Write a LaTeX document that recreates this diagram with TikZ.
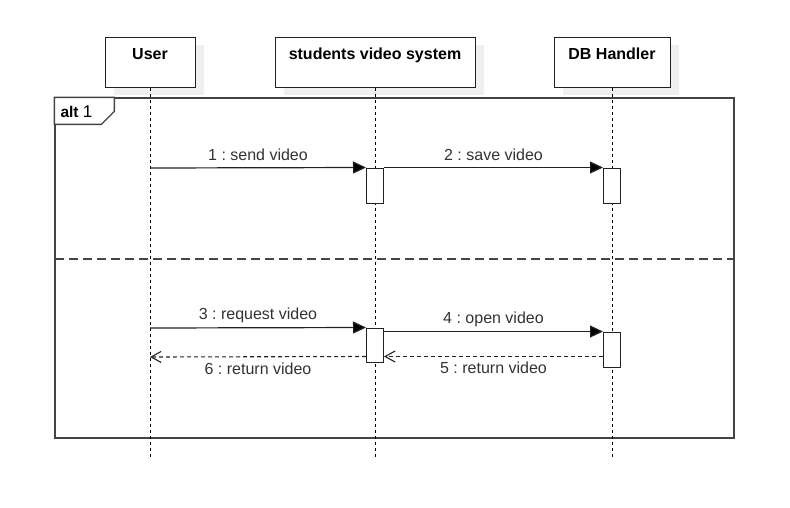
\documentclass[tikz,border=0pt]{standalone}
\usepackage{fontspec}
\setmainfont{Liberation Sans}
\usetikzlibrary{arrows.meta,shadows}
\definecolor{ink}{HTML}{222222}
\definecolor{textink}{HTML}{333333}
\definecolor{frameink}{HTML}{444444}
\definecolor{shade}{HTML}{EFEFEF}
\frenchspacing
\begin{document}
\begin{tikzpicture}[x=1pt,y=-1pt,
  every node/.style={font=\fontsize{16}{19}\selectfont},
  headbox/.style={draw=ink, line width=1pt, fill=white, rectangle, inner sep=0pt,
    text height=22.3pt, text depth=27.7pt, font=\fontsize{16}{19}\selectfont\bfseries,
    general shadow={fill=shade, shadow xshift=9pt, shadow yshift=-8pt}},
  actbox/.style={draw=ink, line width=1pt, fill=white, rectangle, inner sep=0pt,
    minimum width=17pt},
  lifeline/.style={draw=black, line width=1pt, dash pattern=on 3pt off 3pt},
  framebox/.style={draw=frameink, line width=1.3pt, rectangle, inner sep=0pt},
  altsep/.style={draw=frameink, line width=1.2pt, dash pattern=on 9pt off 5pt},
  syncmsg/.style={draw=ink, line width=1.2pt, -{Triangle[length=13pt,width=12pt,fill=black]}},
  retmsg/.style={draw=ink, line width=1.1pt, dash pattern=on 4pt off 3pt,
    -{Straight Barb[length=10pt,width=11pt,line width=1.1pt]}},
  msgabove/.style={midway, anchor=base, inner sep=0pt, text=textink, yshift=7.5pt},
  msgbelow/.style={midway, anchor=base, inner sep=0pt, text=textink, yshift=-17.5pt}
]
\useasboundingbox (0,0) rectangle (790,507);

% combined fragment frame
\node[framebox, minimum width=679pt, minimum height=340pt] (alt) at (394.5,268) {};
\coordinate (sepL) at (55,259);
\coordinate (sepR) at (734,259);
\draw[altsep] (sepL) -- (sepR);

% participants
\node[headbox, minimum width=90pt] (user) at (150,62) {User};
\node[headbox, minimum width=200pt] (svs) at (375,62) {students video system};
\node[headbox, minimum width=116pt] (db) at (612,62) {DB Handler};

% lifelines
\coordinate (userEnd) at (150,458);
\coordinate (svsEnd) at (375,458);
\coordinate (dbEnd) at (612,458);
\draw[lifeline] (user.south) -- (userEnd);
\draw[lifeline] (svs.south) -- (svsEnd);
\draw[lifeline] (db.south) -- (dbEnd);

% frame label
\draw[framebox, fill=white] (alt.north west) -- ++(60,0) -- ++(0,14) -- ++(-13,13) -- ++(-47,0) -- cycle;
\node[anchor=base west, inner sep=0pt] (altlabel) at ([shift={(6,19.7)}]alt.north west)
  {\fontsize{15.5}{17}\selectfont\bfseries alt\ \mdseries\fontsize{17}{19}\selectfont 1};

% activations
\node[actbox, minimum height=35pt] (a1) at (375,185.5) {};
\node[actbox, minimum height=35pt] (a2) at (612,185.5) {};
\node[actbox, minimum height=34pt] (a3) at (375,345) {};
\node[actbox, minimum height=35pt] (a4) at (612,349.5) {};

% points on the user lifeline
\coordinate (u1) at (150,168);
\coordinate (u3) at (150,328);
\coordinate (u6) at (150,357);

% messages
\draw[syncmsg] (u1) -- (a1.north west) node[msgabove] (m1) {1 : send video};
\draw[syncmsg] (a1.north east) -- (a2.north west) node[msgabove] (m2) {2 : save video};
\draw[syncmsg] (u3) -- (a3.north west) node[msgabove, yshift=0.3pt] (m3) {3 : request video};
\draw[syncmsg] ([yshift=-4pt]a3.north east) -- (a4.north west) node[msgabove, yshift=0.2pt] (m4) {4 : open video};
\draw[retmsg] ([yshift=-25pt]a4.north west) -- ([yshift=-29pt]a3.north east) node[msgbelow, yshift=0.5pt] (m5) {5 : return video};
\draw[retmsg] ([yshift=-29pt]a3.north west) -- (u6) node[msgbelow, yshift=-0.5pt] (m6) {6 : return video};
\end{tikzpicture}
\end{document}
